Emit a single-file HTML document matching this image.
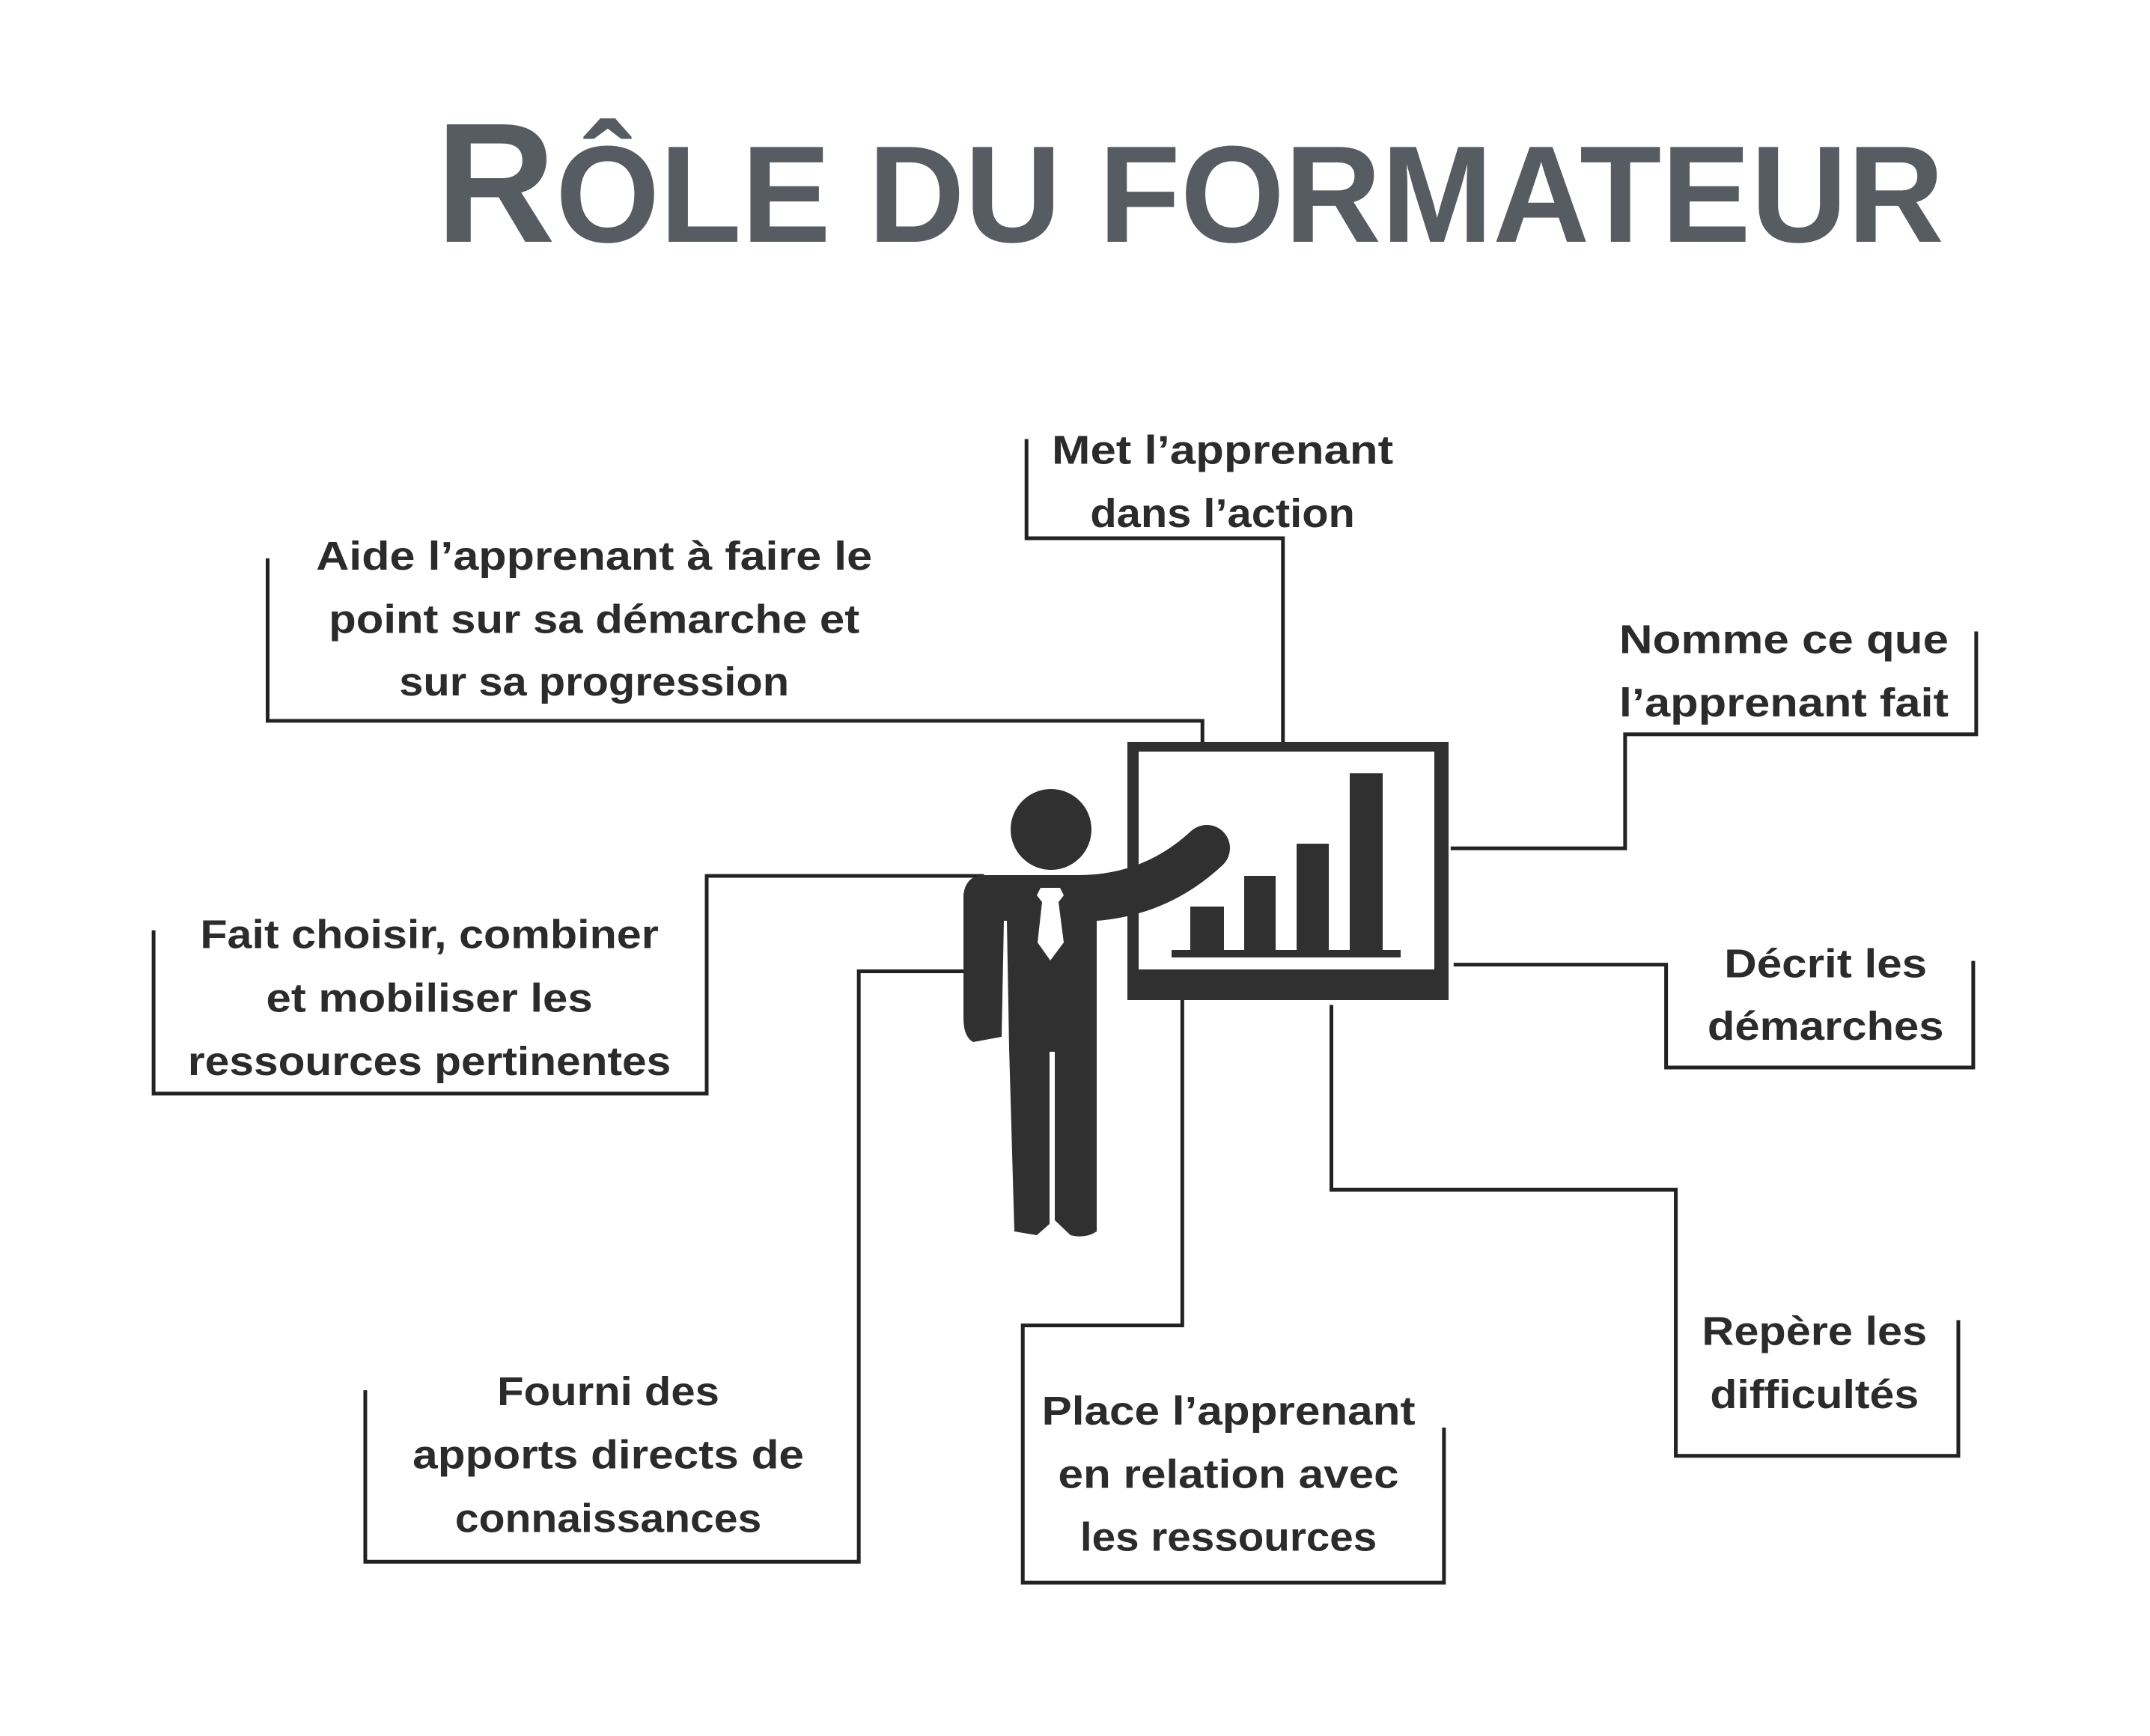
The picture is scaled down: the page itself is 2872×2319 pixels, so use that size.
<!DOCTYPE html>
<html><head><meta charset="utf-8"><style>html,body{margin:0;padding:0;background:#fff}svg{display:block}</style></head>
<body>
<svg width="2872" height="2319" viewBox="0 0 2872 2319" xmlns="http://www.w3.org/2000/svg">
<rect width="2872" height="2319" fill="#fff"/>
<text x="582" y="323" font-family="Liberation Sans, sans-serif" font-weight="bold" fill="#575c63" textLength="2015" lengthAdjust="spacingAndGlyphs"><tspan font-size="228">R</tspan><tspan font-size="184">ÔLE DU FORMATEUR</tspan></text>

<g transform="scale(0.9958)">
<g fill="none" stroke="#222" stroke-width="5">
<polyline points="1377,589 1377,722 1721,722 1721,1002"/>
<polyline points="359,749 359,967 1613,967 1613,1002"/>
<polyline points="2651,847 2651,985 2180,985 2180,1138 1946,1138"/>
<polyline points="206,1248 206,1467 948,1467 948,1175 1320,1175"/>
<polyline points="1950,1294 2235,1294 2235,1432 2647,1432 2647,1289"/>
<polyline points="490,1865 490,2095 1152,2095 1152,1303 1315,1303"/>
<polyline points="1586,1340 1586,1778 1372,1778 1372,2123 1937,2123 1937,1915"/>
<polyline points="1786,1348 1786,1596 2248,1596 2248,1953 2627,1953 2627,1771"/>
</g>

<g font-family="Liberation Sans, sans-serif" font-weight="bold" font-size="54" fill="#2b2b2b" text-anchor="middle">
<text x="1640" y="622" textLength="458" lengthAdjust="spacingAndGlyphs">Met l’apprenant</text>
<text x="1640" y="707" textLength="355" lengthAdjust="spacingAndGlyphs">dans l’action</text>
<text x="797" y="764" textLength="746" lengthAdjust="spacingAndGlyphs">Aide l’apprenant à faire le</text>
<text x="797" y="849" textLength="712" lengthAdjust="spacingAndGlyphs">point sur sa démarche et</text>
<text x="797" y="933" textLength="523" lengthAdjust="spacingAndGlyphs">sur sa progression</text>
<text x="2393" y="876" textLength="442" lengthAdjust="spacingAndGlyphs">Nomme ce que</text>
<text x="2393" y="961" textLength="442" lengthAdjust="spacingAndGlyphs">l’apprenant fait</text>
<text x="576" y="1272" textLength="615" lengthAdjust="spacingAndGlyphs">Fait choisir, combiner</text>
<text x="576" y="1357" textLength="438" lengthAdjust="spacingAndGlyphs">et mobiliser les</text>
<text x="576" y="1442" textLength="648" lengthAdjust="spacingAndGlyphs">ressources pertinentes</text>
<text x="2449" y="1311" textLength="272" lengthAdjust="spacingAndGlyphs">Décrit les</text>
<text x="2449" y="1395" textLength="317" lengthAdjust="spacingAndGlyphs">démarches</text>
<text x="816" y="1885" textLength="298" lengthAdjust="spacingAndGlyphs">Fourni des</text>
<text x="816" y="1970" textLength="525" lengthAdjust="spacingAndGlyphs">apports directs de</text>
<text x="816" y="2055" textLength="411" lengthAdjust="spacingAndGlyphs">connaissances</text>
<text x="1648" y="1911" textLength="501" lengthAdjust="spacingAndGlyphs">Place l’apprenant</text>
<text x="1648" y="1996" textLength="457" lengthAdjust="spacingAndGlyphs">en relation avec</text>
<text x="1648" y="2080" textLength="398" lengthAdjust="spacingAndGlyphs">les ressources</text>
<text x="2434" y="1804" textLength="302" lengthAdjust="spacingAndGlyphs">Repère les</text>
<text x="2434" y="1889" textLength="280" lengthAdjust="spacingAndGlyphs">difficultés</text>
</g>
</g>

<!-- board -->
<rect x="1506" y="991" width="429" height="345" fill="#303030"/>
<rect x="1521" y="1004" width="395" height="291" fill="#fff"/>
<rect x="1565" y="1269" width="306" height="10" fill="#303030"/>
<rect x="1590" y="1211" width="45" height="58" fill="#303030"/>
<rect x="1662" y="1170" width="42" height="99" fill="#303030"/>
<rect x="1732" y="1127" width="43" height="142" fill="#303030"/>
<rect x="1803" y="1033" width="44" height="236" fill="#303030"/>

<!-- figure -->
<g fill="#303030">
<circle cx="1404" cy="1108" r="54"/>
<path d="M1440 1200 Q1540 1200 1612 1133" fill="none" stroke="#303030" stroke-width="62" stroke-linecap="round"/>
<path d="M1310 1169 L1465 1169 L1465 1645 Q1450 1655 1430 1650 L1409 1630 L1409 1405 L1402 1405 L1402 1635 L1385 1650 L1355 1645 L1348 1400 L1345 1230 L1341 1230 L1338 1385 L1300 1392 Q1287 1385 1287 1360 L1287 1195 Q1290 1172 1310 1169 Z"/>
</g>
<polygon points="1390,1186 1416,1186 1421,1196 1414,1205 1421,1259 1403,1283 1386,1259 1392,1205 1385,1196" fill="#fff"/>
</svg>
</body></html>
